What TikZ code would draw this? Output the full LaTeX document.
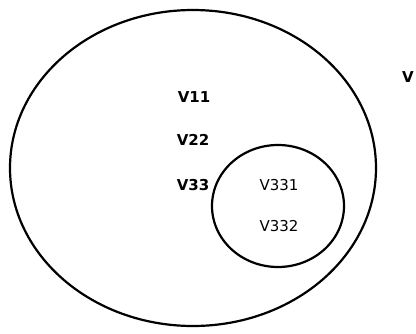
\documentclass[tikz,border=0pt]{standalone}
\usepackage{fontspec}
\setmainfont{DejaVu Sans}
\begin{document}
\begin{tikzpicture}[x=1pt,y=-1pt,
  setline/.style={line width=2.2pt},
  outerlabel/.style={font=\fontsize{15}{17}\selectfont\bfseries, inner sep=0pt},
  innerlabel/.style={font=\fontsize{15}{17}\selectfont, inner sep=0pt}]
  \useasboundingbox (0,0) rectangle (416,333);
  % outer set and nested subset
  \draw[setline] (193,168) ellipse [x radius=183, y radius=158];
  \draw[setline] (278,206) ellipse [x radius=66, y radius=61];
  % members of the outer set
  \node[outerlabel] (v11) at (194,97) {V11};
  \node[outerlabel] (v22) at (193,140) {V22};
  \node[outerlabel] (v33) at (193,185) {V33};
  % members of the subset
  \node[innerlabel] (v331) at (279,185) {V331};
  \node[innerlabel] (v332) at (279,226) {V332};
  % label at the right edge
  \node[outerlabel, anchor=west] (v) at (402,77) {V};
\end{tikzpicture}
\end{document}
